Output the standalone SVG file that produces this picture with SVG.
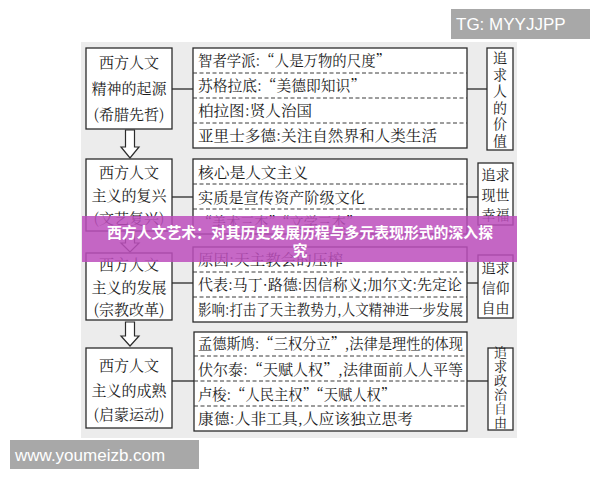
<svg xmlns="http://www.w3.org/2000/svg" width="600" height="480" viewBox="0 0 600 480">
<style>
.bg{fill:#ffffff}
.panel{fill:#ececec}
.box{fill:#ffffff;stroke:#2b2b2b;stroke-width:1.3}
.dash{stroke:#3a3a3a;stroke-width:1;stroke-dasharray:4 2.5;fill:none}
.line{stroke:#2b2b2b;stroke-width:1.3;fill:none}
.arrow{fill:#ffffff;stroke:#2b2b2b;stroke-width:1.2}
.t{font-family:"Noto Serif CJK SC","Noto Sans CJK SC",serif;font-size:15px;fill:#1b1b1b}
.s{font-size:14px}
.xs{font-size:13px}
.c{text-anchor:middle}
.banner{fill:#bd4fbd;opacity:0.86}
.bt{font-family:"Noto Sans CJK SC",sans-serif;font-size:15px;font-weight:bold;fill:#ffffff;text-anchor:middle}
.wm{fill:#a8a8a8}
.wt{font-family:"Liberation Sans",Arial,sans-serif;font-size:17px;fill:#ffffff}
</style>
<rect class="bg" x="0" y="0" width="600" height="480"/>
<rect class="panel" x="81" y="42" width="436" height="396"/>

<g id="connectors">
<line class="line" x1="172" y1="89" x2="193" y2="89"/>
<line class="line" x1="467" y1="89" x2="487" y2="89"/>
<line class="line" x1="172" y1="197" x2="193" y2="197"/>
<line class="line" x1="467" y1="197" x2="478" y2="197"/>
<line class="line" x1="172" y1="283" x2="193" y2="283"/>
<line class="line" x1="467" y1="283" x2="478" y2="283"/>
<line class="line" x1="172" y1="381" x2="194" y2="381"/>
<line class="line" x1="467" y1="381" x2="488" y2="381"/>
<polygon class="arrow" points="125.5,130 134.5,130 134.5,147 139,147 130,158 121,147 125.5,147"/>
<polygon class="arrow" points="125.5,231 134.5,231 134.5,243 139,243 130,252 121,243 125.5,243"/>
<polygon class="arrow" points="125.5,322 134.5,322 134.5,336 139,336 130,346 121,336 125.5,336"/>
</g>

<g id="node-origin">
<rect class="box" x="86" y="48" width="86" height="81"/>
<text class="t c" x="129" y="68">西方人文</text>
<text class="t c" x="129" y="94">精神的起源</text>
<text class="t c" x="129" y="120">(希腊先哲)</text>
</g>
<g id="node-origin-detail">
<rect class="box" x="193" y="48" width="274" height="100"/>
<line class="dash" x1="193" y1="73" x2="467" y2="73"/>
<line class="dash" x1="193" y1="98" x2="467" y2="98"/>
<line class="dash" x1="193" y1="123" x2="467" y2="123"/>
<text class="t" x="198" y="66" textLength="192" lengthAdjust="spacingAndGlyphs">智者学派:“人是万物的尺度”</text>
<text class="t" x="198" y="91" textLength="167" lengthAdjust="spacingAndGlyphs">苏格拉底:“美德即知识”</text>
<text class="t" x="198" y="116" textLength="114" lengthAdjust="spacingAndGlyphs">柏拉图:贤人治国</text>
<text class="t" x="198" y="141" textLength="239" lengthAdjust="spacingAndGlyphs">亚里士多德:关注自然界和人类生活</text>
</g>
<g id="node-origin-goal">
<rect class="box" x="487" y="48" width="26" height="102"/>
<text class="t s c" x="500" y="63">追</text>
<text class="t s c" x="500" y="80">求</text>
<text class="t s c" x="500" y="96">人</text>
<text class="t s c" x="500" y="113">的</text>
<text class="t s c" x="500" y="129">价</text>
<text class="t s c" x="500" y="146">值</text>
</g>

<g id="node-renaissance">
<rect class="box" x="86" y="159" width="86" height="72"/>
<text class="t c" x="129" y="178">西方人文</text>
<text class="t c" x="129" y="201">主义的复兴</text>
<text class="t c" x="129" y="224">(文艺复兴)</text>
</g>
<g id="node-renaissance-detail">
<rect class="box" x="193" y="159" width="274" height="75"/>
<line class="dash" x1="193" y1="184" x2="467" y2="184"/>
<line class="dash" x1="193" y1="209" x2="467" y2="209"/>
<text class="t" x="198" y="178" textLength="110" lengthAdjust="spacingAndGlyphs">核心是人文主义</text>
<text class="t" x="198" y="203" textLength="167" lengthAdjust="spacingAndGlyphs">实质是宣传资产阶级文化</text>
<text class="t" x="198" y="228" textLength="162" lengthAdjust="spacingAndGlyphs">“美术三杰”“文学三杰”</text>
</g>
<g id="node-renaissance-goal">
<rect class="box" x="478" y="163" width="35" height="62"/>
<text class="t s c" x="495.5" y="180">追求</text>
<text class="t s c" x="495.5" y="200">现世</text>
<text class="t s c" x="495.5" y="220">幸福</text>
</g>

<g id="node-reformation">
<rect class="box" x="86" y="253" width="86" height="67"/>
<text class="t c" x="129" y="270">西方人文</text>
<text class="t c" x="129" y="293">主义的发展</text>
<text class="t c" x="129" y="315">(宗教改革)</text>
</g>
<g id="node-reformation-detail">
<rect class="box" x="193" y="247" width="274" height="75"/>
<line class="dash" x1="193" y1="272" x2="467" y2="272"/>
<line class="dash" x1="193" y1="297" x2="467" y2="297"/>
<text class="t" x="198" y="265" textLength="145" lengthAdjust="spacingAndGlyphs">原因:天主教会的压榨</text>
<text class="t" x="198" y="290" textLength="264" lengthAdjust="spacingAndGlyphs">代表:马丁·路德:因信称义;加尔文:先定论</text>
<text class="t" x="198" y="315" textLength="265" lengthAdjust="spacingAndGlyphs">影响:打击了天主教势力,人文精神进一步发展</text>
</g>
<g id="node-reformation-goal">
<rect class="box" x="478" y="255" width="35" height="63"/>
<text class="t s c" x="495.5" y="273">追求</text>
<text class="t s c" x="495.5" y="293">信仰</text>
<text class="t s c" x="495.5" y="313">自由</text>
</g>

<g id="node-enlightenment">
<rect class="box" x="86" y="348" width="86" height="80"/>
<text class="t c" x="129" y="371">西方人文</text>
<text class="t c" x="129" y="396">主义的成熟</text>
<text class="t c" x="129" y="420">(启蒙运动)</text>
</g>
<g id="node-enlightenment-detail">
<rect class="box" x="194" y="332" width="273" height="99"/>
<line class="dash" x1="194" y1="356" x2="467" y2="356"/>
<line class="dash" x1="194" y1="381" x2="467" y2="381"/>
<line class="dash" x1="194" y1="406" x2="467" y2="406"/>
<text class="t" x="198" y="349" textLength="265" lengthAdjust="spacingAndGlyphs">孟德斯鸠:“三权分立”,法律是理性的体现</text>
<text class="t" x="198" y="375" textLength="265" lengthAdjust="spacingAndGlyphs">伏尔泰:“天赋人权”,法律面前人人平等</text>
<text class="t" x="198" y="400" textLength="197" lengthAdjust="spacingAndGlyphs">卢梭:“人民主权”“天赋人权”</text>
<text class="t" x="198" y="424" textLength="215" lengthAdjust="spacingAndGlyphs">康德:人非工具,人应该独立思考</text>
</g>
<g id="node-enlightenment-goal">
<rect class="box" x="488" y="348" width="25" height="82"/>
<text class="t xs c" x="500.5" y="357">追</text>
<text class="t xs c" x="500.5" y="371">求</text>
<text class="t xs c" x="500.5" y="385">政</text>
<text class="t xs c" x="500.5" y="399">治</text>
<text class="t xs c" x="500.5" y="413">自</text>
<text class="t xs c" x="500.5" y="427">由</text>
</g>

<g id="banner">
<rect class="banner" x="82" y="216" width="435" height="46"/>
<text class="bt" x="300" y="238" textLength="386" lengthAdjust="spacingAndGlyphs">西方人文艺术：对其历史发展历程与多元表现形式的深入探</text>
<text class="bt" x="300" y="256">究</text>
</g>

<g id="watermarks">
<rect class="wm" x="451" y="9" width="139" height="30"/>
<text class="wt" x="456" y="30">TG: MYYJJPP</text>
<rect class="wm" x="10" y="440" width="189" height="29"/>
<text class="wt" x="15" y="461">www.youmeizb.com</text>
</g>
</svg>
